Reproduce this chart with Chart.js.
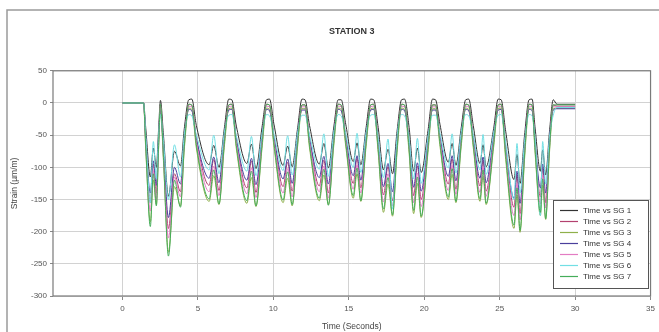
<!DOCTYPE html>
<html>
<head>
<meta charset="utf-8">
<script src="https://cdn.jsdelivr.net/npm/chart.js@4.4.1/dist/chart.umd.min.js"></script>
<style>
  html, body { margin: 0; padding: 0; background: #fff; }
  #wrap { width: 659px; height: 332px; }
</style>
</head>
<body>
<div id="wrap"><canvas id="station-chart"></canvas></div>
<script>
// time in seconds, shared by all gauges
const time = [
  0, 1.4,
  1.55, 1.85, 2.05, 2.25, 2.4, 2.52,
  2.72, 3.05, 3.45, 3.85, 4.1, 4.4, 4.6,
  4.9, 5.75, 6.05, 6.4, 6.75, 7.05, 7.25,
  7.55, 8.25, 8.55, 8.85, 9.25, 9.55, 9.75,
  10.05, 10.65, 10.95, 11.25, 11.6, 11.9, 12.1,
  12.4, 13.05, 13.35, 13.65, 14.0, 14.3, 14.5,
  14.8, 15.3, 15.55, 15.8, 16.15, 16.45, 16.65,
  16.95, 17.3, 17.6, 17.9, 18.2, 18.5, 18.7,
  19.0, 19.3, 19.55, 19.8, 20.25, 20.55, 20.75,
  21.05, 21.6, 21.85, 22.1, 22.45, 22.75, 22.95,
  23.25, 23.7, 23.9, 24.1, 24.6, 24.9, 25.1,
  25.4, 25.95, 26.15, 26.35, 26.65, 26.95, 27.15,
  27.35, 27.7, 27.85, 28.05, 28.3, 28.55, 28.8, 30
];

const sg1 = [
  0, 0,
  -40, -115, -70, -100, -40, 4,
  -50, -145, -75, -98, -40, 5, 6,
  -35, -96, -66, -100, -40, 6, 5,
  -36, -94, -64, -102, -38, 5, 6,
  -34, -97, -67, -99, -41, 6, 5,
  -35, -95, -63, -101, -39, 5, 5,
  -33, -91, -62, -96, -38, 6, 5,
  -38, -104, -72, -110, -44, 5, 6,
  -38, -106, -70, -108, -43, 6, 5,
  -34, -92, -63, -97, -39, 5, 6,
  -35, -94, -65, -99, -40, 6, 5,
  -44, -119, -80, -125, -50, 5, 6,
  -39, -106, -73, -112, -45, 5, -2, -2
];
const sg2 = [
  0, 0,
  -60, -155, -95, -140, -58, -3,
  -75, -195, -110, -138, -60, -2, -4,
  -55, -128, -88, -136, -54, -3, -2,
  -56, -132, -90, -139, -56, -2, -4,
  -54, -130, -92, -137, -55, -3, -3,
  -55, -129, -89, -140, -54, -2, -4,
  -52, -125, -86, -132, -53, -3, -2,
  -60, -143, -99, -152, -60, -2, -4,
  -61, -144, -98, -150, -61, -3, -3,
  -53, -126, -87, -134, -53, -2, -4,
  -54, -129, -89, -137, -55, -3, -2,
  -68, -162, -112, -172, -69, -2, -4,
  -62, -146, -100, -155, -62, -3, -5, -5
];
const sg3 = [
  0, 0,
  -75, -185, -120, -158, -70, -9,
  -90, -232, -130, -160, -72, -8, -10,
  -70, -153, -113, -158, -69, -9, -8,
  -71, -156, -116, -161, -71, -8, -10,
  -69, -155, -117, -160, -70, -9, -9,
  -70, -152, -112, -158, -68, -8, -10,
  -67, -148, -110, -153, -67, -9, -8,
  -77, -170, -126, -176, -77, -8, -10,
  -78, -172, -125, -178, -77, -9, -9,
  -68, -150, -111, -155, -68, -8, -10,
  -69, -153, -114, -158, -69, -9, -8,
  -88, -195, -143, -201, -87, -8, -10,
  -78, -175, -128, -181, -78, -9, -8, -8
];
const sg4 = [
  0, 0,
  -58, -140, -90, -128, -52, -11,
  -70, -178, -100, -126, -55, -10, -12,
  -55, -117, -84, -124, -50, -11, -10,
  -56, -120, -86, -127, -51, -10, -12,
  -54, -118, -87, -125, -49, -11, -11,
  -55, -116, -83, -126, -50, -10, -12,
  -53, -113, -82, -120, -48, -11, -10,
  -60, -130, -94, -138, -55, -10, -12,
  -61, -131, -93, -137, -56, -11, -11,
  -53, -114, -82, -121, -48, -10, -12,
  -54, -117, -84, -124, -50, -11, -10,
  -69, -148, -106, -156, -63, -10, -12,
  -62, -132, -95, -140, -56, -11, -9, -9
];
const sg5 = [
  0, 0,
  -65, -168, -105, -150, -62, -5,
  -82, -210, -115, -146, -62, -5, -6,
  -60, -138, -98, -144, -59, -6, -5,
  -61, -141, -101, -147, -61, -5, -6,
  -59, -140, -102, -146, -60, -6, -6,
  -60, -138, -98, -148, -58, -5, -6,
  -58, -134, -96, -140, -57, -6, -5,
  -66, -154, -110, -160, -66, -5, -6,
  -67, -155, -109, -161, -66, -6, -6,
  -58, -136, -97, -142, -58, -5, -6,
  -59, -139, -99, -145, -59, -6, -5,
  -75, -175, -125, -182, -75, -5, -6,
  -67, -157, -112, -163, -67, -6, -6, -6
];
const sg6 = [
  0, 0,
  -52, -155, -60, -118, -50, -18,
  -60, -150, -65, -115, -50, -18, -20,
  -50, -104, -50, -110, -47, -19, -18,
  -51, -106, -52, -113, -49, -18, -20,
  -49, -105, -51, -112, -48, -19, -19,
  -50, -103, -48, -114, -47, -18, -20,
  -48, -100, -47, -108, -46, -19, -18,
  -55, -116, -56, -165, -53, -18, -20,
  -56, -118, -55, -125, -53, -19, -19,
  -48, -101, -48, -109, -46, -18, -20,
  -49, -104, -49, -111, -47, -19, -18,
  -62, -150, -63, -140, -60, -18, -20,
  -56, -175, -60, -126, -54, -19, -7, -7
];
const sg7 = [
  0, 0,
  -70, -192, -110, -160, -66, -2,
  -85, -238, -120, -162, -68, -2, -3,
  -65, -149, -104, -157, -64, -3, -2,
  -66, -152, -106, -160, -66, -2, -3,
  -64, -151, -107, -158, -65, -3, -3,
  -65, -148, -103, -159, -63, -2, -3,
  -62, -144, -101, -152, -62, -3, -2,
  -72, -165, -116, -174, -72, -2, -3,
  -72, -167, -115, -176, -71, -3, -3,
  -63, -146, -102, -153, -63, -2, -3,
  -64, -149, -104, -156, -64, -3, -2,
  -81, -190, -132, -198, -81, -2, -3,
  -73, -170, -118, -180, -73, -3, -3, -3
];

const seriesNames = ["Time vs SG 1", "Time vs SG 2", "Time vs SG 3", "Time vs SG 4",
                     "Time vs SG 5", "Time vs SG 6", "Time vs SG 7"];
const seriesValues = [sg1, sg2, sg3, sg4, sg5, sg6, sg7];
const seriesColors = ["#333333", "#b3416f", "#8fb04a", "#4a3f9c", "#e37cc3", "#72dfe4", "#45ad5a"];

const xTicks = [0, 5, 10, 15, 20, 25, 30, 35];
const yMin = -300, yMax = 50, yStep = 50;

const datasets = seriesValues.map(function (vals, i) {
  return {
    label: seriesNames[i],
    data: vals.map(function (v, j) { return { x: time[j], y: v }; }),
    borderColor: seriesColors[i],
    borderWidth: 1,
    pointRadius: 0,
    fill: false,
    cubicInterpolationMode: "monotone",
    order: seriesValues.length - i
  };
});

// grey outer frame + white page
const framePlugin = {
  id: "frame",
  beforeDraw(chart) {
    const c = chart.ctx;
    c.save();
    c.fillStyle = "#fff";
    c.fillRect(0, 0, chart.width, chart.height);
    c.strokeStyle = "#9a9a9a";
    c.lineWidth = 1.5;
    c.strokeRect(7, 10, chart.width + 20, chart.height + 20);
    c.restore();
  }
};

// border of plot area and the boxed legend in the lower right
const boxLegendPlugin = {
  id: "boxLegend",
  afterDraw(chart) {
    const c = chart.ctx;
    const a = chart.chartArea;
    c.save();
    c.strokeStyle = "#7a7a7a";
    c.lineWidth = 1.2;
    c.strokeRect(a.left, a.top, a.right - a.left, a.bottom - a.top);

    const bx = 553, by = 200, bw = 95, bh = 88;
    c.fillStyle = "#fff";
    c.fillRect(bx, by, bw, bh);
    c.strokeStyle = "#555";
    c.lineWidth = 1;
    c.strokeRect(bx + 0.5, by + 0.5, bw, bh);
    c.font = "8px Arial, 'Liberation Sans', sans-serif";
    c.textBaseline = "middle";
    seriesNames.forEach(function (name, i) {
      const y = by + 10.5 + i * 11;
      c.strokeStyle = seriesColors[i];
      c.lineWidth = 1.2;
      c.beginPath();
      c.moveTo(bx + 7, y);
      c.lineTo(bx + 25, y);
      c.stroke();
      c.fillStyle = "#333";
      c.fillText(name, bx + 30, y);
    });
    c.restore();
  }
};

new Chart(document.getElementById("station-chart"), {
  type: "line",
  data: { datasets: datasets },
  options: {
    responsive: true,
    maintainAspectRatio: false,
    animation: false,
    layout: { padding: { left: 0, right: 8, top: 0, bottom: 0 } },
    plugins: {
      legend: { display: false },
      tooltip: { enabled: false },
      title: {
        display: true,
        text: "STATION 3",
        fullSize: false,
        color: "#333",
        font: { family: "Arial, 'Liberation Sans', sans-serif", size: 9, weight: "bold" },
        padding: { top: 26, bottom: 34 }
      }
    },
    scales: {
      x: {
        type: "linear",
        min: -4.6,
        max: 35,
        afterBuildTicks: function (scale) {
          scale.ticks = xTicks.map(function (v) { return { value: v }; });
        },
        afterFit: function (scale) { scale.height = 36; },
        ticks: {
          color: "#555",
          font: { family: "Arial, 'Liberation Sans', sans-serif", size: 8 },
          padding: 4,
          maxRotation: 0,
          autoSkip: false
        },
        grid: { color: "#d2d2d2", tickLength: 4, tickColor: "#888" },
        border: { display: false },
        title: {
          display: true,
          text: "Time (Seconds)",
          color: "#444",
          font: { family: "Arial, 'Liberation Sans', sans-serif", size: 8.5 },
          padding: { top: 1, bottom: 0 }
        }
      },
      y: {
        min: yMin,
        max: yMax,
        afterFit: function (scale) { scale.width = 53; },
        ticks: {
          stepSize: yStep,
          color: "#555",
          font: { family: "Arial, 'Liberation Sans', sans-serif", size: 8 },
          padding: 3
        },
        grid: { color: "#d2d2d2", tickLength: 3, tickColor: "#888" },
        border: { display: false },
        title: {
          display: true,
          text: "Strain (µm/m)",
          color: "#444",
          font: { family: "Arial, 'Liberation Sans', sans-serif", size: 8.5 },
          padding: { top: 10, bottom: 0 }
        }
      }
    }
  },
  plugins: [framePlugin, boxLegendPlugin]
});
</script>
</body>
</html>
